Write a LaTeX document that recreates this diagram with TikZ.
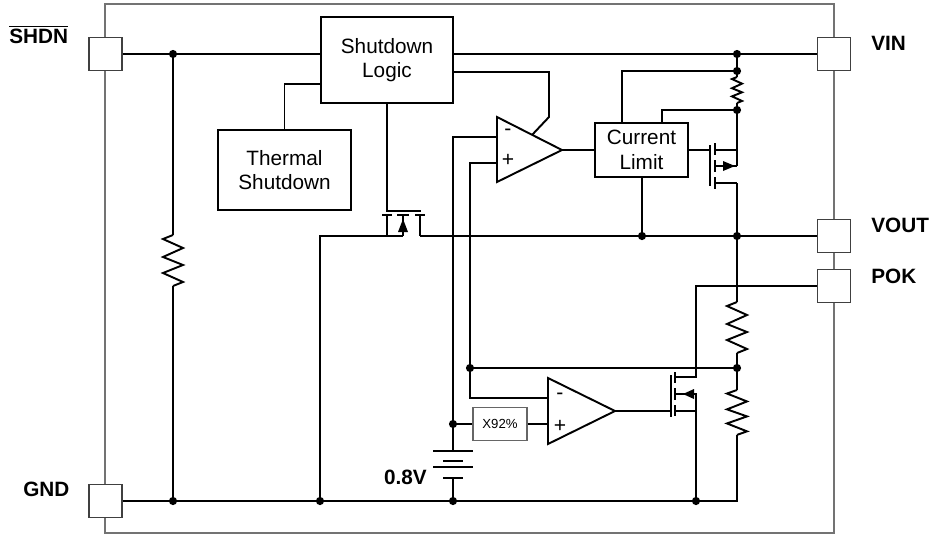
\documentclass[tikz,border=0pt]{standalone}
\usepackage{fontspec}
\setmainfont{Liberation Sans}

\begin{document}
\begin{tikzpicture}[x=0.02cm,y=-0.02cm,
    wire/.style={line width=1.1pt},
    blk/.style={draw,line width=0.7pt,align=center,inner sep=0pt,font=\fontsize{11.8}{14}\selectfont},
    pin/.style={draw=black!75,fill=white,line width=0.6pt,minimum size=0.66cm,inner sep=0pt},
    lbl/.style={font=\fontsize{11.8}{14}\selectfont\bfseries,inner sep=0pt},
    sgn/.style={font=\fontsize{12}{14}\selectfont,inner sep=0pt},
    zz/.pic={\draw[wire] (0,0) -- (-10,4) -- (10,13) -- (-10,22) -- (10,30) -- (-10,38) -- (10,47) -- (0,51);}
  ]
    \useasboundingbox (0,0) rectangle (934,535);
    \draw[black!55,line width=0.6pt] (105,4) rectangle (834,533);

    \node[blk,minimum width=2.64cm,minimum height=1.72cm] (logic) at (387,60) {Shutdown\\Logic};
    \node[blk,minimum width=2.66cm,minimum height=1.6cm] (thermal) at (284.5,170) {Thermal\\Shutdown};
    \node[blk,minimum width=1.86cm,minimum height=1.08cm] (limit) at (641.5,150) {Current\\Limit};
    \node[blk,draw=black!60,minimum width=1.08cm,minimum height=0.66cm,font=\fontsize{7.5}{9}\selectfont] (x92) at (500,424) {X92\%};

    \coordinate (n1) at (173,54);
    \coordinate (n2) at (173,501);
    \coordinate (n3) at (320,501);
    \coordinate (n4) at (453,501);
    \coordinate (n5) at (696,501);
    \coordinate (n6) at (737,54);
    \coordinate (n7) at (737,71);
    \coordinate (n8) at (737,110);
    \coordinate (n9) at (642,236);
    \coordinate (n10) at (737,236);
    \coordinate (n11) at (737,368);
    \coordinate (n12) at (470,368);
    \coordinate (n13) at (453,424);

    % pins
    \node[pin] (shdn) at (105.5,54) {};
    \node[pin] (gnd) at (105.5,501) {};
    \node[pin] (vin) at (834,54) {};
    \node[pin] (vout) at (834,236) {};
    \node[pin] (pok) at (834,286) {};
    \node[lbl,anchor=base west] (tshdn) at (9,43) {$\overline{\mbox{\bfseries SHDN}}$};
    \node[lbl,anchor=base west] (tgnd) at (23,496) {GND};
    \node[lbl,anchor=base west] (tvin) at (871,50) {VIN};
    \node[lbl,anchor=base west] (tvout) at (871,232) {VOUT};
    \node[lbl,anchor=base west] (tpok) at (871,283) {POK};

    \draw[wire] (shdn.east) -- (shdn.east -| logic.west);
    \draw[wire] (logic.east |- vin.west) -- (vin.west);
    \draw[wire] (gnd.east) -- (737,501) -- (737,435);
    \draw[wire] (n1) -- (173,235);
    \pic at (173,235) {zz};
    \draw[wire] (173,286) -- (n2);
    \draw[wire] (thermal.north) |- (logic.west |- 0,84);

    % output discharge switch
    \draw[wire] (logic.south) -- (387,211) -- (421,211);
    \draw[wire] (382,215) -- (392,215) (397,215) -- (409,215) (415,215) -- (425,215);
    \draw[wire] (387,215) -- (387,236) (403,215) -- (403,236) (420,215) -- (420,236);
    \fill (403,219) -- (398,232) -- (408,232) -- cycle;
    \draw[wire] (n3) -- (320,236) -- (403,236);
    \draw[wire] (420,236) -- (vout.west);

    % error amplifier
    \draw[wire] (497,117) -- (562,150) -- (497,182) -- cycle;
    \node[sgn] (m1) at (508,132) {-};
    \node[sgn] (p1) at (508,160) {+};
    \draw[wire] (logic.east |- 0,72) -| (549,117) -- (532,135);
    \draw[wire] (562,150) -- (limit.west);
    \draw[wire] (497,137) -| (453,451);
    \draw[wire] (497,163) -| (470,398) -- (548,398);
    \draw[wire] (n12) -- (n11);

    % reference
    \draw[wire] (433,451) -- (473,451) (443,461) -- (463,461) (433,467) -- (473,467) (443,478) -- (463,478);
    \draw[wire] (453,478) -- (n4);
    \node[lbl,anchor=base east] (tref) at (427,484) {0.8V};

    % power good comparator
    \draw[wire] (548,378) -- (615,411) -- (548,444) -- cycle;
    \node[sgn] (m2) at (560,396) {-};
    \node[sgn] (p2) at (560,426) {+};
    \draw[wire] (n13) -- (x92.west);
    \draw[wire] (x92.east) -- (548,424);
    \draw[wire] (615,411) -- (671,411);
    \draw[wire] (671,375) -- (671,417);
    \draw[wire] (675,372) -- (675,383) (675,388) -- (675,400) (675,405) -- (675,416);
    \draw[wire] (675,377) -- (696,377) -- (696,286) -- (pok.west);
    \draw[wire] (675,394) -- (696,394) -- (n5);
    \draw[wire] (675,411) -- (696,411);
    \fill (683,394) -- (694,389) -- (694,399) -- cycle;

    % pass device
    \draw[wire] (n6) -- (737,77);
    \pic[xscale=0.5,yscale=0.51] at (737,77) {zz};
    \draw[wire] (737,103) -- (737,166);
    \draw[wire] (limit.east) -- (710,150);
    \draw[wire] (710,145) -- (710,186);
    \draw[wire] (715,143) -- (715,155) (715,160) -- (715,172) (715,177) -- (715,189);
    \draw[wire] (715,150) -- (737,150) (715,166) -- (737,166) (715,183) -- (737,183);
    \fill (735,166) -- (723,161) -- (723,171) -- cycle;
    \draw[wire] (737,183) -- (737,302);
    \pic at (737,302) {zz};
    \draw[wire] (737,353) -- (737,390);
    \pic[yscale=0.88] at (737,390) {zz};
    \draw[wire] (limit.north -| 622,0) |- (n7);
    \draw[wire] (limit.north -| 662,0) |- (n8);
    \draw[wire] (limit.south -| n9) -- (n9);

    \foreach \p in {n1,n2,n3,n4,n5,n6,n7,n8,n9,n10,n11,n12,n13}
        \fill (\p) circle[radius=0.082cm];
\end{tikzpicture}
\end{document}
